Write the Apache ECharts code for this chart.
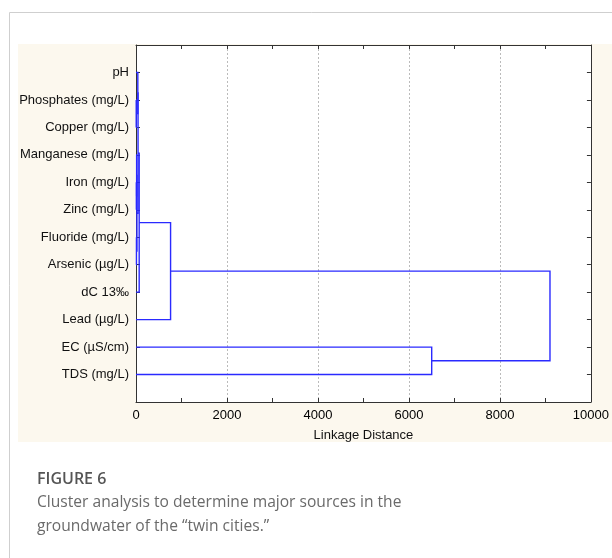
<!DOCTYPE html>
<html>
<head>
<meta charset="utf-8">
<script src="https://cdn.jsdelivr.net/npm/echarts@6/dist/echarts.min.js"></script>
<style>
  html, body { margin: 0; padding: 0; background: #fff; }
  #chart { width: 612px; height: 558px; }
</style>
</head>
<body>
<div id="chart"></div>
<script>
// variables, top to bottom
const labels = ['pH', 'Phosphates (mg/L)', 'Copper (mg/L)', 'Manganese (mg/L)', 'Iron (mg/L)', 'Zinc (mg/L)',
  'Fluoride (mg/L)', 'Arsenic (µg/L)', 'dC 13‰', 'Lead (µg/L)', 'EC (µS/cm)', 'TDS (mg/L)']
// joins: node 12 is the first join, 13 the second ...
const joinLeft = [4, 6, 3, 14, 1, 0, 17, 18, 19, 10, 20]
const joinRight = [5, 7, 12, 13, 2, 16, 15, 8, 9, 11, 21]
const joinDist = [8, 10, 14, 20, 5, 40, 45, 70, 760, 6500, 9100]
const xTicks = [0, 2000, 4000, 6000, 8000, 10000]

// place every node: leaves at 1..n, joins in the middle of their two children
const nodeY = labels.map((l, i) => i + 1)
const nodeH = labels.map(() => 0)
const links = []
joinLeft.forEach((a, k) => {
  const b = joinRight[k]
  const h = joinDist[k]
  links.push([nodeH[a], nodeY[a], h, nodeY[b], nodeH[b]])
  nodeY.push((nodeY[a] + nodeY[b]) / 2)
  nodeH.push(h)
})

const font = 'Liberation Sans, Arial, sans-serif'
const axisColor = '#333'
const frameLine = { show: true, onZero: false, lineStyle: { color: axisColor } }
const innerTick = { show: true, inside: true, length: 4, lineStyle: { color: axisColor } }

const myChart = echarts.init(document.getElementById('chart'))
const option = {
  animation: false,
  graphic: [
    { type: 'rect', z: -10, shape: { x: 9.5, y: 12.5, width: 620, height: 560 }, style: { fill: '#fff', stroke: '#cfcfcf', lineWidth: 1 } },
    { type: 'rect', z: -9, shape: { x: 18, y: 44, width: 594, height: 398 }, style: { fill: '#fcf8ee' } },
    { type: 'text', left: 37, top: 471, style: { text: 'FIGURE 6', fill: '#555', font: '600 16px "Open Sans", sans-serif' } },
    { type: 'text', left: 37, top: 495, style: { text: 'Cluster analysis to determine major sources in the', fill: '#6a6a6a', font: '15.6px "Open Sans", sans-serif' } },
    { type: 'text', left: 37, top: 519, style: { text: 'groundwater of the \u201ctwin cities.\u201d', fill: '#6a6a6a', font: '15.6px "Open Sans", sans-serif' } }
  ],
  grid: { left: 136, top: 45, right: 18, bottom: 156, show: true, backgroundColor: '#fff', borderWidth: 0 },
  xAxis: [
    {
      type: 'value', position: 'bottom', min: 0, max: 10000, interval: 1000,
      axisLine: frameLine,
      axisTick: innerTick,
      axisLabel: {
        margin: 7, color: '#000', fontFamily: font, fontSize: 13,
        formatter: v => xTicks.includes(v) ? String(v) : ''
      },
      splitLine: { show: false },
      name: 'Linkage Distance', nameLocation: 'middle', nameGap: 27,
      nameTextStyle: { color: '#111', fontFamily: font, fontSize: 13 }
    },
    {
      type: 'value', position: 'top', min: 0, max: 10000, interval: 1000,
      axisLine: frameLine,
      axisTick: innerTick,
      axisLabel: { show: false },
      splitLine: { show: false }
    },
    {
      type: 'value', position: 'bottom', min: 0, max: 10000, interval: 2000,
      axisLine: { show: false, onZero: false }, axisTick: { show: false }, axisLabel: { show: false },
      splitLine: { show: true, lineStyle: { color: '#bbb', type: [2, 2], width: 1 } }
    }
  ],
  yAxis: [
    {
      type: 'value', position: 'left', min: 0, max: 13, interval: 1, inverse: true,
      axisLine: frameLine,
      axisTick: innerTick,
      axisLabel: {
        margin: 7, color: '#111', fontFamily: font, fontSize: 13,
        formatter: v => labels[v - 1] || ''
      },
      splitLine: { show: false }
    },
    {
      type: 'value', position: 'right', min: 0, max: 13, interval: 1, inverse: true,
      axisLine: frameLine,
      axisTick: innerTick,
      axisLabel: { show: false },
      splitLine: { show: false }
    }
  ],
  series: [
    {
      type: 'custom',
      xAxisIndex: 0,
      yAxisIndex: 0,
      data: links,
      encode: { x: [0, 2, 4], y: [1, 3] },
      renderItem: (params, api) => {
        const hA = api.value(0), yA = api.value(1), h = api.value(2), yB = api.value(3), hB = api.value(4)
        return {
          type: 'polyline',
          shape: { points: [api.coord([hA, yA]), api.coord([h, yA]), api.coord([h, yB]), api.coord([hB, yB])] },
          style: { stroke: '#2a2aff', lineWidth: 1.4, fill: null }
        }
      }
    }
  ]
}
myChart.setOption(option)
</script>
</body>
</html>
